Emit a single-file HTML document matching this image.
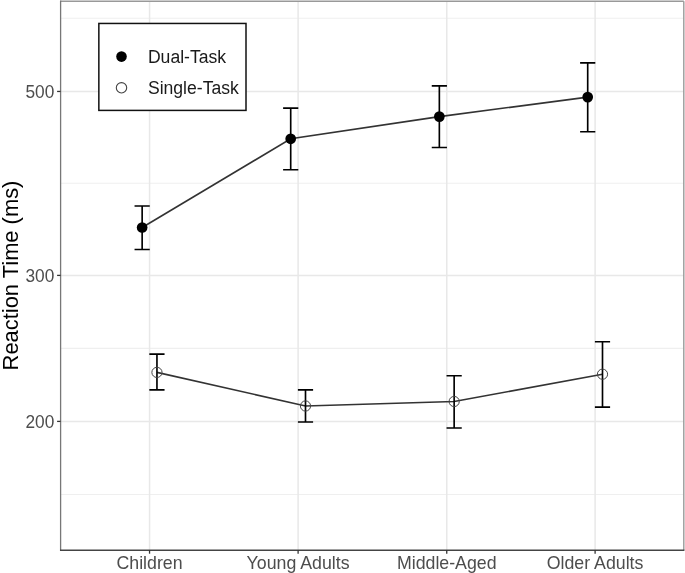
<!DOCTYPE html>
<html><head><meta charset="utf-8"><style>
html,body{margin:0;padding:0;background:#fff;width:685px;height:573px;overflow:hidden}
svg{display:block;will-change:transform;filter:blur(0.3px)}
.ax{font-family:"Liberation Sans",sans-serif;font-size:17.6px;fill:#4D4D4D}
.ti{font-family:"Liberation Sans",sans-serif;font-size:21.9px;fill:#000}
.lg{font-family:"Liberation Sans",sans-serif;font-size:17.6px;fill:#1a1a1a}
</style></head><body>
<svg width="685" height="573" viewBox="0 0 685 573">
<rect width="685" height="573" fill="#fff"/>
<line x1="60.6" x2="683.8" y1="18.2" y2="18.2" stroke="#EFEFEF" stroke-width="1.1"/>
<line x1="60.6" x2="683.8" y1="183.25" y2="183.25" stroke="#EFEFEF" stroke-width="1.1"/>
<line x1="60.6" x2="683.8" y1="348.35" y2="348.35" stroke="#EFEFEF" stroke-width="1.1"/>
<line x1="60.6" x2="683.8" y1="494.5" y2="494.5" stroke="#EFEFEF" stroke-width="1.1"/>
<line x1="60.6" x2="683.8" y1="91.45" y2="91.45" stroke="#E8E8E8" stroke-width="1.5"/>
<line x1="60.6" x2="683.8" y1="275.4" y2="275.4" stroke="#E8E8E8" stroke-width="1.5"/>
<line x1="60.6" x2="683.8" y1="421.4" y2="421.4" stroke="#E8E8E8" stroke-width="1.5"/>
<line x1="149.55" x2="149.55" y1="1.2" y2="550.2" stroke="#E8E8E8" stroke-width="1.5"/>
<line x1="298.1" x2="298.1" y1="1.2" y2="550.2" stroke="#E8E8E8" stroke-width="1.5"/>
<line x1="446.75" x2="446.75" y1="1.2" y2="550.2" stroke="#E8E8E8" stroke-width="1.5"/>
<line x1="595.1" x2="595.1" y1="1.2" y2="550.2" stroke="#E8E8E8" stroke-width="1.5"/>
<line x1="60.6" x2="683.8" y1="1.2" y2="1.2" stroke="#999" stroke-width="1.4"/>
<line x1="683.8" x2="683.8" y1="1.2" y2="550.2" stroke="#999" stroke-width="1.4"/>
<line x1="60.6" x2="60.6" y1="0.6" y2="551" stroke="#777" stroke-width="1.3"/>
<line x1="60" x2="684.4" y1="550.2" y2="550.2" stroke="#444" stroke-width="1.6"/>
<line x1="57.1" x2="60.6" y1="91.45" y2="91.45" stroke="#333" stroke-width="1.3"/>
<text transform="translate(54.3,97.78) scale(1,1.07)" text-anchor="end" class="ax" style="font-size:17.3px">500</text>
<line x1="57.1" x2="60.6" y1="275.4" y2="275.4" stroke="#333" stroke-width="1.3"/>
<text transform="translate(54.3,281.73) scale(1,1.07)" text-anchor="end" class="ax" style="font-size:17.3px">300</text>
<line x1="57.1" x2="60.6" y1="421.4" y2="421.4" stroke="#333" stroke-width="1.3"/>
<text transform="translate(54.3,427.73) scale(1,1.07)" text-anchor="end" class="ax" style="font-size:17.3px">200</text>
<line x1="149.55" x2="149.55" y1="550.2" y2="553.7" stroke="#333" stroke-width="1.3"/>
<text x="149.55" y="568.7" text-anchor="middle" class="ax" style="font-size:17.75px">Children</text>
<line x1="298.1" x2="298.1" y1="550.2" y2="553.7" stroke="#333" stroke-width="1.3"/>
<text x="298.1" y="568.7" text-anchor="middle" class="ax" style="font-size:17.75px">Young Adults</text>
<line x1="446.75" x2="446.75" y1="550.2" y2="553.7" stroke="#333" stroke-width="1.3"/>
<text x="446.75" y="568.7" text-anchor="middle" class="ax" style="font-size:17.75px">Middle-Aged</text>
<line x1="595.1" x2="595.1" y1="550.2" y2="553.7" stroke="#333" stroke-width="1.3"/>
<text x="595.1" y="568.7" text-anchor="middle" class="ax" style="font-size:17.75px">Older Adults</text>
<text transform="translate(17.8,275.5) rotate(-90)" text-anchor="middle" class="ti">Reaction Time (ms)</text>
<polyline points="142.15,227.5 290.7,138.8 439.35,116.6 587.7,97.1" fill="none" stroke="#333" stroke-width="1.6"/>
<path d="M134.55 206H149.75M142.15 206V249.5M134.55 249.5H149.75" stroke="#000" stroke-width="1.65" fill="none"/>
<path d="M283.1 108.1H298.3M290.7 108.1V169.7M283.1 169.7H298.3" stroke="#000" stroke-width="1.65" fill="none"/>
<path d="M431.75 85.8H446.95M439.35 85.8V147.5M431.75 147.5H446.95" stroke="#000" stroke-width="1.65" fill="none"/>
<path d="M580.1 62.8H595.3M587.7 62.8V131.7M580.1 131.7H595.3" stroke="#000" stroke-width="1.65" fill="none"/>
<circle cx="142.15" cy="227.5" r="5.35" fill="#000"/>
<circle cx="290.7" cy="138.8" r="5.35" fill="#000"/>
<circle cx="439.35" cy="116.6" r="5.35" fill="#000"/>
<circle cx="587.7" cy="97.1" r="5.35" fill="#000"/>
<polyline points="156.95,372.4 305.5,406 454.15,401.5 602.5,374.2" fill="none" stroke="#333" stroke-width="1.6"/>
<path d="M149.35 354.1H164.55M156.95 354.1V389.9M149.35 389.9H164.55" stroke="#000" stroke-width="1.65" fill="none"/>
<path d="M297.9 389.9H313.1M305.5 389.9V422M297.9 422H313.1" stroke="#000" stroke-width="1.65" fill="none"/>
<path d="M446.55 375.7H461.75M454.15 375.7V428M446.55 428H461.75" stroke="#000" stroke-width="1.65" fill="none"/>
<path d="M594.9 341.7H610.1M602.5 341.7V407.1M594.9 407.1H610.1" stroke="#000" stroke-width="1.65" fill="none"/>
<circle cx="156.95" cy="372.4" r="5.1" fill="none" stroke="#444" stroke-width="1.0"/>
<circle cx="305.5" cy="406" r="5.1" fill="none" stroke="#444" stroke-width="1.0"/>
<circle cx="454.15" cy="401.5" r="5.1" fill="none" stroke="#444" stroke-width="1.0"/>
<circle cx="602.5" cy="374.2" r="5.1" fill="none" stroke="#444" stroke-width="1.0"/>
<rect x="98.85" y="23.45" width="147.15" height="86.95" fill="#fff" stroke="#111" stroke-width="1.5"/>
<circle cx="121.5" cy="56.6" r="5.3" fill="#000"/>
<circle cx="121.5" cy="87.8" r="5.2" fill="none" stroke="#444" stroke-width="1.1"/>
<text x="147.9" y="62.8" class="lg">Dual-Task</text>
<text x="147.9" y="93.8" class="lg">Single-Task</text>
</svg>
</body></html>
